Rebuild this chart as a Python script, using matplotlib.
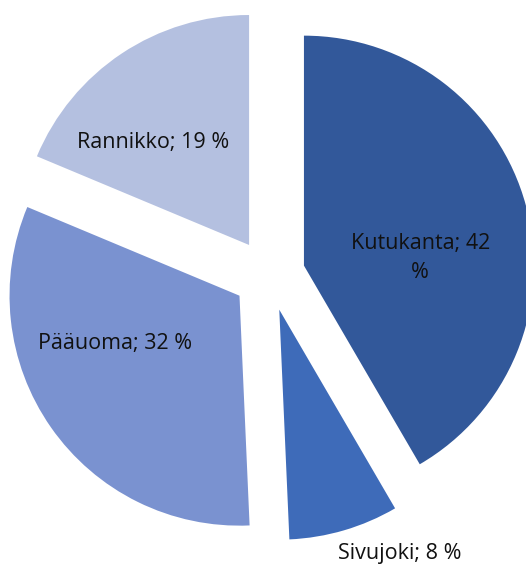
import numpy as np
import matplotlib
matplotlib.use("Agg")
import matplotlib.pyplot as plt

# shares (labels are rounded)
categories = ["Kutukanta", "Sivujoki", "Pääuoma", "Rannikko"]
shares = [41.6, 7.7, 32.0, 18.7]
colors = ["#32589A", "#3E6BB9", "#7A92D0", "#B4C0E0"]

# label anchor points in axes data units (radius = 1)
label_pos = [(0.657, 0.074), (0.570, -1.209), (-0.670, -0.296), (-0.504, 0.578)]


def label_text(name, value):
    txt = f"{name}; {round(value)} %"
    if name == "Kutukanta":      # excel wrapped this one
        txt = f"{name}; {round(value)}\n%"
    return txt


fig = plt.figure(figsize=(5.26, 5.65), dpi=100)
ax = fig.add_axes([0, 0, 1, 1])

ax.pie(shares, colors=colors, startangle=90, counterclock=False,
       explode=[0.157] * len(shares), radius=1.0,
       wedgeprops=dict(linewidth=0))

for name, value, (x, y) in zip(categories, shares, label_pos):
    ax.text(x, y, label_text(name, value), ha="center", va="center",
            multialignment="center", fontsize=15.5, family="Open Sans",
            color="#111111", linespacing=1.45)

ax.set_xlim(-1.170, 1.117)
ax.set_ylim(-1.261, 1.196)
ax.set_aspect("equal")
ax.axis("off")

fig.savefig("out.png", dpi=100)
